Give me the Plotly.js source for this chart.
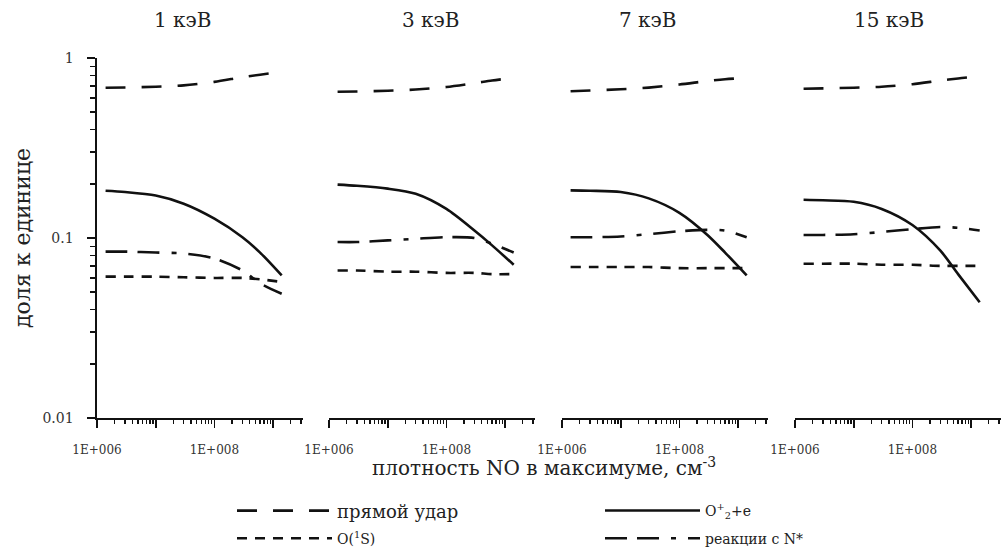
<!DOCTYPE html>
<html>
<head>
<meta charset="utf-8">
<script src="https://cdn.plot.ly/plotly-3.0.1.min.js"></script>
<style>html,body{margin:0;padding:0;background:#fff;}#chart{width:1006px;height:559px;}</style>
</head>
<body>
<div id="chart"></div>
<script>
// NO density at maximum, cm^-3
const noDensity = [1.4e6, 3e6, 1e7, 3e7, 1e8, 3e8, 6e8, 1.4e9];
const energies = ['1 кэВ', '3 кэВ', '7 кэВ', '15 кэВ'];
const seriesNames = ['прямой удар', 'O(<sup>1</sup>S)', 'O<sup>+</sup><sub>2</sub>+e', 'реакции с N*'];

// прямой удар (direct impact), one array per energy
const direct1 = [0.684, 0.686, 0.692, 0.705, 0.737, 0.783, 0.808, 0.838];
const direct3 = [0.650, 0.652, 0.658, 0.668, 0.690, 0.725, 0.750, 0.776];
const direct7 = [0.653, 0.660, 0.670, 0.685, 0.712, 0.745, 0.762, 0.776];
const direct15 = [0.675, 0.678, 0.684, 0.692, 0.715, 0.750, 0.770, 0.790];

// O(1S)
const o1s1 = [0.061, 0.061, 0.061, 0.0605, 0.060, 0.060, 0.059, 0.057];
const o1s3 = [0.066, 0.066, 0.065, 0.065, 0.064, 0.064, 0.063, 0.063];
const o1s7 = [0.069, 0.069, 0.069, 0.069, 0.068, 0.068, 0.068, 0.068];
const o1s15 = [0.072, 0.072, 0.072, 0.071, 0.071, 0.070, 0.070, 0.070];

// O2+ + e
const o2e1 = [0.183, 0.180, 0.172, 0.155, 0.128, 0.101, 0.083, 0.062];
const o2e3 = [0.198, 0.195, 0.188, 0.176, 0.145, 0.110, 0.091, 0.071];
const o2e7 = [0.184, 0.183, 0.180, 0.166, 0.138, 0.104, 0.083, 0.062];
const o2e15 = [0.163, 0.162, 0.159, 0.145, 0.118, 0.085, 0.063, 0.044];

// реакции с N*
const nstar1 = [0.084, 0.084, 0.083, 0.082, 0.077, 0.066, 0.056, 0.049];
const nstar3 = [0.095, 0.095, 0.097, 0.099, 0.101, 0.100, 0.093, 0.083];
const nstar7 = [0.101, 0.101, 0.102, 0.105, 0.109, 0.111, 0.110, 0.101];
const nstar15 = [0.104, 0.104, 0.105, 0.108, 0.112, 0.115, 0.114, 0.110];

const xTickVals = [1e6, 1e7, 1e8, 1e9];
const xTickText = ['1E+006', '', '1E+008', ''];
const yTickVals = [0.01, 0.1, 1];
const yTickText = ['0.01', '0.1', '1'];

const seriesData = [
  [direct1, direct3, direct7, direct15],
  [o1s1, o1s3, o1s7, o1s15],
  [o2e1, o2e3, o2e7, o2e15],
  [nstar1, nstar3, nstar7, nstar15]
];

const INK = '#111';
const FONT = 'DejaVu Serif';
const dashes = ['20px,16px', '10px,8px', 'solid', '22px,10px,22px,12px,5px,12px'];
const legendIds = ['legend', 'legend2', 'legend3', 'legend4'];

const W = 1006, H = 559, L = 97, R = 5, T = 58, B = 137;
const PW = W - L - R, PH = H - T - B;
const px = v => (v - L) / PW;
const py = v => (H - B - v) / PH;

const panelPx = [[97, 303], [329, 535], [562, 768], [795, 1001]];

const traces = [];
for (let s = 0; s < 4; s++) {
  for (let p = 0; p < 4; p++) {
    traces.push({
      x: noDensity,
      y: seriesData[s][p],
      xaxis: p === 0 ? 'x' : 'x' + (p + 1),
      yaxis: 'y',
      mode: 'lines',
      name: seriesNames[s],
      line: {color: INK, width: 2.6, dash: dashes[s], shape: 'spline', smoothing: 0.8},
      showlegend: p === 0,
      legend: legendIds[s],
      hoverinfo: 'skip'
    });
  }
}

const minorX = [];
for (let e = 6; e <= 9; e++) for (let k = 2; k <= 9; k++) minorX.push(k * Math.pow(10, e));
const minorY = [];
for (let e = -2; e <= -1; e++) for (let k = 2; k <= 9; k++) minorY.push(k * Math.pow(10, e));

function xAxis(i) {
  return {
    type: 'log', domain: [px(panelPx[i][0]), px(panelPx[i][1])],
    range: [6, 6 + (panelPx[i][1] - panelPx[i][0]) / 58.7],
    anchor: 'y', showline: true, linecolor: INK, linewidth: 1.6, mirror: false,
    showgrid: false, zeroline: false,
    ticks: 'outside', ticklen: 8, tickwidth: 1.6, tickcolor: INK,
    tickmode: 'array', tickvals: xTickVals, ticktext: xTickText,
    ticklabelstandoff: 12,
    minor: {ticks: 'outside', ticklen: 4, tickwidth: 1.4, tickcolor: INK, tickmode: 'array', tickvals: minorX, showgrid: false},
    tickfont: {family: FONT, size: 12, color: '#333'},
    fixedrange: true
  };
}

const legendBase = {xanchor: 'left', yanchor: 'middle', orientation: 'h', itemwidth: 95,
                    bgcolor: 'rgba(0,0,0,0)', borderwidth: 0};

const layout = {
  width: W, height: H,
  margin: {l: L, r: R, t: T, b: B},
  paper_bgcolor: '#fff', plot_bgcolor: '#fff',
  font: {family: FONT, color: '#222'},
  xaxis: xAxis(0), xaxis2: xAxis(1), xaxis3: xAxis(2), xaxis4: xAxis(3),
  yaxis: {
    type: 'log', range: [-2, 0], domain: [0, 1], anchor: 'x',
    showline: true, linecolor: INK, linewidth: 1.6, showgrid: false, zeroline: false,
    ticks: 'outside', ticklen: 8, tickwidth: 1.6, tickcolor: INK,
    tickmode: 'array', tickvals: yTickVals, ticktext: yTickText,
    ticklabelstandoff: 11,
    minor: {ticks: 'outside', ticklen: 5, tickwidth: 1.4, tickcolor: INK, tickmode: 'array', tickvals: minorY, showgrid: false},
    tickfont: {family: FONT, size: 14, color: '#333'},
    fixedrange: true
  },
  legend: Object.assign({x: px(232), y: py(516), font: {family: FONT, size: 18, color: '#222'}}, legendBase),
  legend2: Object.assign({x: px(232), y: py(544), font: {family: FONT, size: 14, color: '#222'}}, legendBase),
  legend3: Object.assign({x: px(600), y: py(516), font: {family: FONT, size: 14, color: '#222'}}, legendBase),
  legend4: Object.assign({x: px(600), y: py(544), font: {family: FONT, size: 14, color: '#222'}}, legendBase),
  annotations: [
    ...energies.map((t, i) => ({
      text: t, xref: 'paper', yref: 'paper', x: px([182, 430, 647, 889][i]), y: py(20),
      xanchor: 'center', yanchor: 'middle', showarrow: false,
      font: {family: FONT, size: 20, color: '#222'}
    })),
    {text: 'доля к единице', xref: 'paper', yref: 'paper', x: px(22), y: py(240), textangle: -90,
     xanchor: 'center', yanchor: 'middle', showarrow: false, font: {family: FONT, size: 22, color: '#222'}},
    {text: 'плотность NO в максимуме, см<sup>-3</sup>', xref: 'paper', yref: 'paper', x: px(544), y: py(472),
     xanchor: 'center', yanchor: 'middle', showarrow: false, font: {family: FONT, size: 20, color: '#222'}}
  ]
};

Plotly.newPlot('chart', traces, layout, {displayModeBar: false, staticPlot: true});
</script>
</body>
</html>
